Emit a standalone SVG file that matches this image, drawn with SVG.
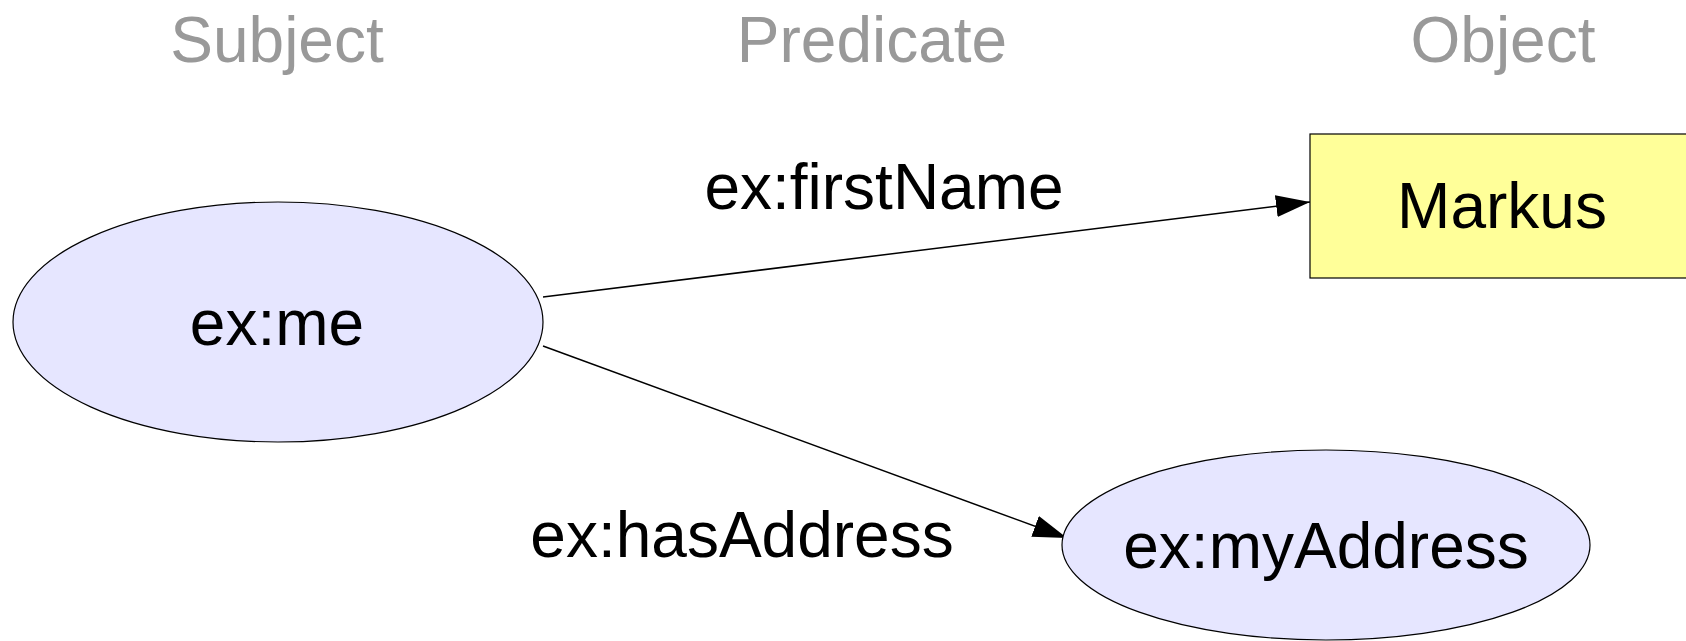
<svg xmlns="http://www.w3.org/2000/svg" width="1686" height="641" viewBox="0 0 1686 641">
<defs>
<style>
text{font-family:"Liberation Sans",Arial,sans-serif;font-size:64px;text-anchor:middle}
.hdr{fill:#999999}
.lbl{fill:#000000}
.res{fill:#e6e6ff;stroke:#000;stroke-width:1.2}
.lit{fill:#ffff99;stroke:#000;stroke-width:1.2}
.edge{stroke:#000;stroke-width:1.5;fill:none;marker-end:url(#arrow)}
</style>
<marker id="arrow" markerUnits="userSpaceOnUse" markerWidth="36" markerHeight="24" refX="34" refY="11" orient="auto">
<path d="M0,0 L34,11 L0,22 Z" fill="#000"/>
</marker>
</defs>
<rect width="1686" height="641" fill="#ffffff"/>
<g id="headers">
<text class="hdr" x="277" y="62">Subject</text>
<text class="hdr" x="872" y="62">Predicate</text>
<text class="hdr" x="1503" y="62">Object</text>
</g>
<g id="connectors">
<line class="edge" x1="543" y1="297" x2="1310" y2="202"/>
<line class="edge" x1="543" y1="346" x2="1067" y2="538"/>
<text class="lbl" x="884" y="209">ex:firstName</text>
<text class="lbl" x="742" y="557">ex:hasAddress</text>
</g>
<g id="node-me">
<ellipse class="res" cx="278" cy="322" rx="265" ry="120"/>
<text class="lbl" x="277" y="345">ex:me</text>
</g>
<g id="node-markus">
<rect class="lit" x="1310" y="134" width="380" height="144"/>
<text class="lbl" x="1502" y="228">Markus</text>
</g>
<g id="node-myaddress">
<ellipse class="res" cx="1326" cy="545" rx="264" ry="95"/>
<text class="lbl" x="1326" y="568">ex:myAddress</text>
</g>
</svg>
